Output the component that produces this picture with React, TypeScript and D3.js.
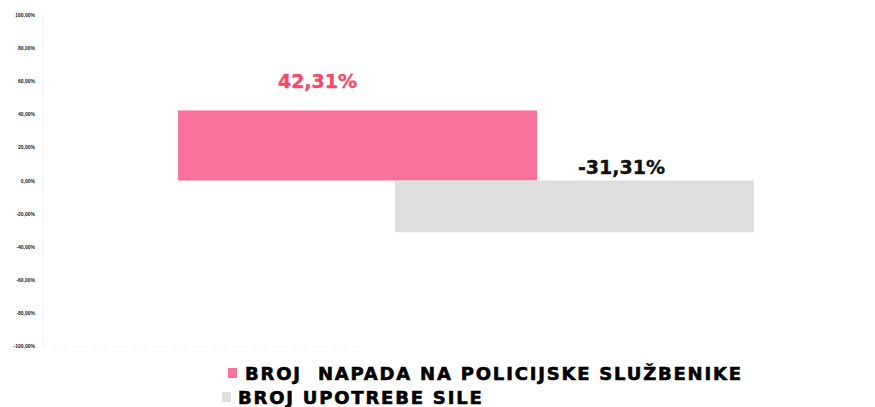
import { useEffect, useRef } from 'react';
import * as d3 from 'd3';

// data
const series = ['BROJ  NAPADA NA POLICIJSKE SLUŽBENIKE', 'BROJ UPOTREBE SILE'];
const values = [42.31, -31.31];
const valueLabels = ['42,31%', '-31,31%'];
const yTicks = [100, 80, 60, 40, 20, 0, -20, -40, -60, -80, -100];

const colors = ['#f7739c', '#dedede'];
const labelColors = ['#f24a6e', '#111111'];

const fmt = (d: number) => d.toFixed(2).replace('.', ',') + '%';

export default function App() {
  const svgRef = useRef<SVGSVGElement>(null);

  useEffect(() => {
    document.body.style.margin = '0';
    const svg = d3.select(svgRef.current);
    svg.selectAll('*').remove();

    const y = d3.scaleLinear().domain([-100, 100]).range([346, 15]);
    const x = d3.scaleLinear().domain([0, 1]).range([178, 395]);
    const barWidth = 359;

    // faint axis lines
    svg.append('line')
      .attr('x1', 43).attr('x2', 43)
      .attr('y1', y(100)).attr('y2', y(-100))
      .attr('stroke', '#f1f1f1');
    svg.append('line')
      .attr('x1', 43).attr('x2', 360)
      .attr('y1', y(-100) + 1).attr('y2', y(-100) + 1)
      .attr('stroke', '#eeeeee')
      .attr('stroke-dasharray', '4,6');

    // y axis tick labels
    svg.append('g')
      .selectAll('text')
      .data(yTicks)
      .enter()
      .append('text')
      .attr('x', 35)
      .attr('y', d => y(d) + 2)
      .attr('text-anchor', 'end')
      .style('font-family', 'Liberation Sans, Arial, sans-serif')
      .style('font-weight', 'bold')
      .style('font-size', '5px')
      .attr('fill', '#222')
      .text(d => fmt(d));

    // bars
    svg.append('g')
      .selectAll('rect')
      .data(values)
      .enter()
      .append('rect')
      .attr('x', (d, i) => x(i))
      .attr('y', d => y(Math.max(0, d)))
      .attr('width', barWidth)
      .attr('height', d => Math.abs(y(d) - y(0)))
      .attr('fill', (d, i) => colors[i]);

    // value labels
    const labelDx = [-40, 47];
    svg.append('g')
      .selectAll('text')
      .data(values)
      .enter()
      .append('text')
      .attr('x', (d, i) => x(i) + barWidth / 2 + labelDx[i])
      .attr('y', d => (d > 0 ? y(d) - 22 : y(0) - 7))
      .attr('text-anchor', 'middle')
      .style('font-family', 'DejaVu Sans, sans-serif')
      .style('font-weight', 'bold')
      .style('font-size', '19px')
      .attr('fill', (d, i) => labelColors[i])
      .attr('stroke', (d, i) => labelColors[i])
      .attr('stroke-width', 0.4)
      .text((d, i) => valueLabels[i]);

    // legend
    const legendX = [228, 222];
    const legendTextX = [245, 238];
    const legendY = [373, 397];
    const legend = svg.append('g');
    series.forEach((name, i) => {
      legend.append('rect')
        .attr('x', legendX[i])
        .attr('y', legendY[i] - 5)
        .attr('width', 9)
        .attr('height', 10)
        .attr('fill', colors[i]);
      legend.append('text')
        .attr('x', legendTextX[i])
        .attr('y', legendY[i] + 7)
        .style('font-family', 'DejaVu Sans, sans-serif')
        .style('font-weight', 'bold')
        .style('font-size', '18px')
        .style('letter-spacing', '1.8px')
        .style('white-space', 'pre')
        .attr('fill', '#000')
        .attr('stroke', '#000')
        .attr('stroke-width', 0.6)
        .text(name);
    });
  }, []);

  return (
    <svg ref={svgRef} width={875} height={407} style={{ display: 'block', background: '#fff' }}></svg>
  );
}
